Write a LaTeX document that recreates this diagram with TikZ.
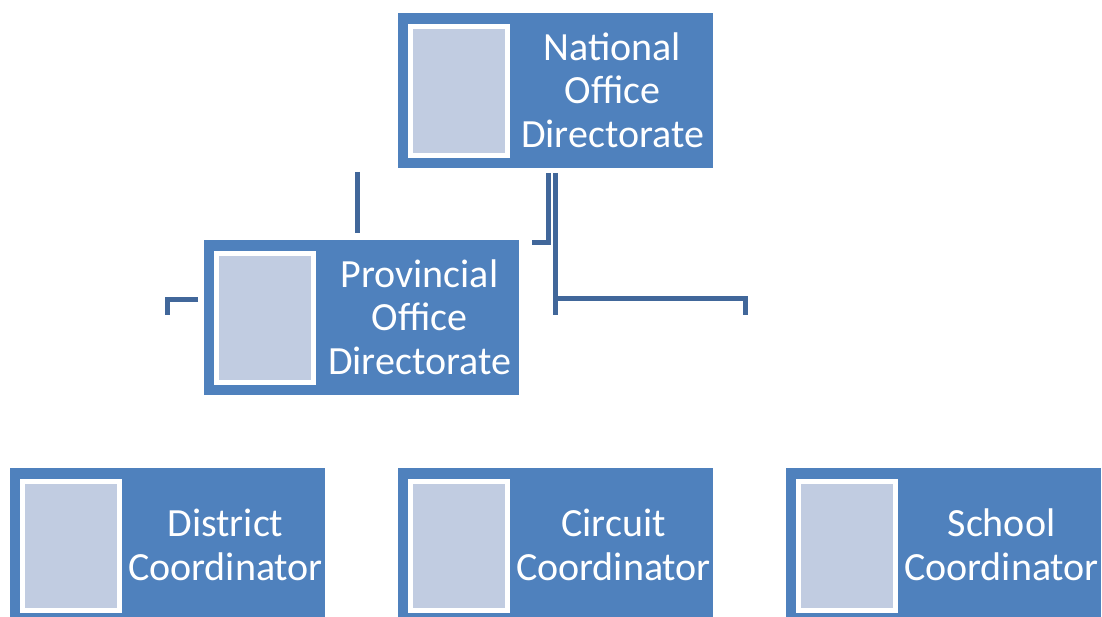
\documentclass[tikz,border=0pt]{standalone}
\usepackage{fontspec}
\setmainfont{Carlito}
\definecolor{boxblue}{HTML}{4F81BD}
\definecolor{photofill}{HTML}{C1CCE1}
\definecolor{connblue}{HTML}{41679A}
\begin{document}
\begin{tikzpicture}[x=1pt,y=-1pt,
  orgbox/.style={fill=boxblue, minimum width=315pt, minimum height=155pt,
    anchor=north west, inner sep=0pt, outer sep=0pt},
  photo/.style={fill=photofill, draw=white, line width=5pt, outer sep=0pt,
    minimum width=97pt, minimum height=129pt, inner sep=0pt, anchor=north west},
  label/.style={align=center, text=white, inner sep=0pt,
    font=\fontsize{40}{43.5}\selectfont},
  conn/.style={draw=connblue, line width=5pt}]
\useasboundingbox (0,0) rectangle (1102,617);
\clip (0,0) rectangle (1102,617);

% boxes
\node[orgbox] (nat) at (398,13) {};
\node[photo] (natp) at (410.5,26.5) {};
\node[label] (natt) at (612.5,90) {National\\Office\\Directorate};

\node[orgbox] (prov) at (204,240) {};
\node[photo] (provp) at (216.5,253.5) {};
\node[label] (provt) at (419.5,317) {Provincial\\Office\\Directorate};

\node[orgbox] (dist) at (10,468) {};
\node[photo] (distp) at (22.5,481.5) {};
\node[label] (distt) at (225.5,545) {District\\Coordinator};

\node[orgbox] (circ) at (398,468) {};
\node[photo] (circp) at (410.5,481.5) {};
\node[label] (circt) at (613.5,545) {Circuit\\Coordinator};

\node[orgbox] (schl) at (786,468) {};
\node[photo] (schlp) at (798.5,481.5) {};
\node[label] (schlt) at (1001.5,545) {School\\Coordinator};

% connector pieces
\coordinate (a1) at (357,172);
\coordinate (a2) at (357,233);
\draw[conn] (a1) -- (a2);

\coordinate (b1) at (198,299.5);
\coordinate (b2) at (167.5,299.5);
\coordinate (b3) at (167.5,315);
\draw[conn] (b1) -- (b2) -- (b3);

\coordinate (c1) at (548,173);
\coordinate (c2) at (548,242.5);
\coordinate (c3) at (532,242.5);
\draw[conn] (c1) -- (c2) -- (c3);

\coordinate (d1) at (555,173);
\coordinate (d2) at (555,315);
\draw[conn] (d1) -- (d2);
\coordinate (e1) at (555,299);
\coordinate (e2) at (745.5,299);
\coordinate (e3) at (745.5,315);
\draw[conn] (e1) -- (e2) -- (e3);
\end{tikzpicture}
\end{document}
